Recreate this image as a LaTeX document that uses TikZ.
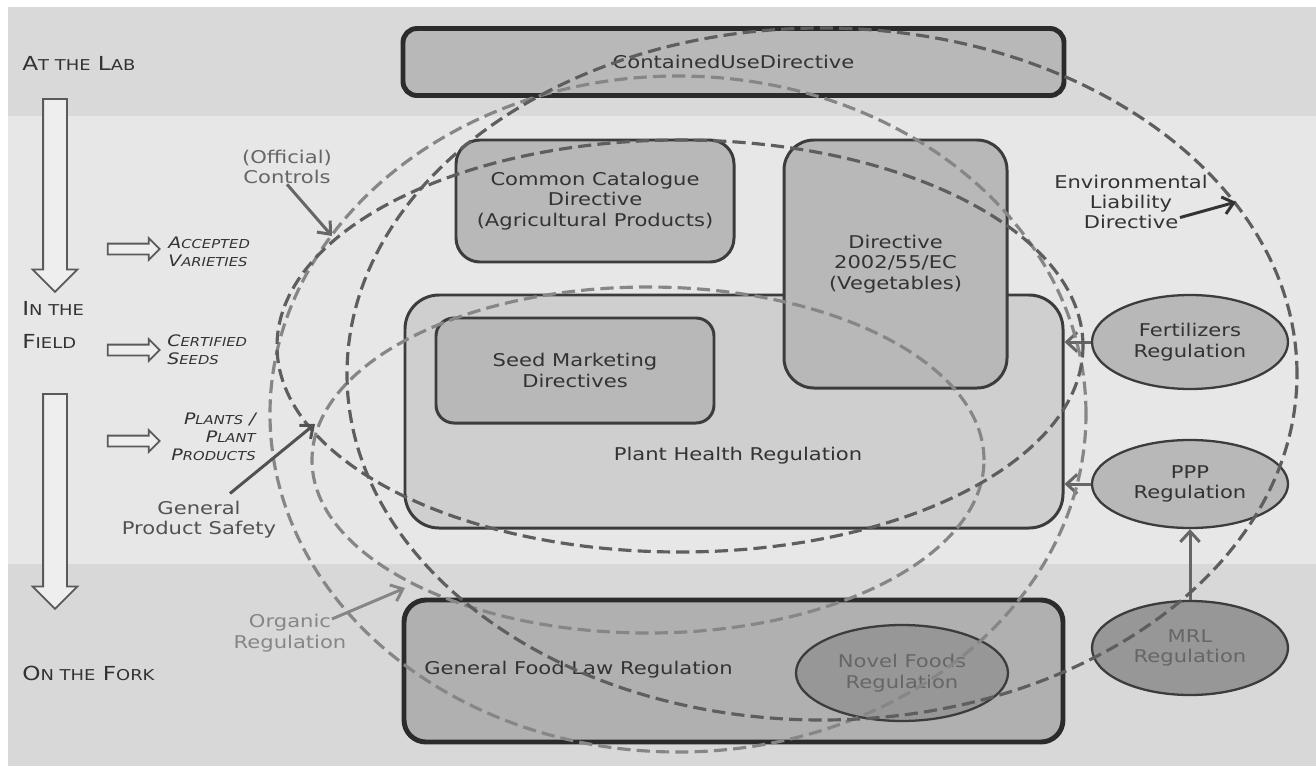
\documentclass[tikz,border=0pt]{standalone}
\usepackage{fontspec}
\setmainfont{DejaVu Sans}[FakeStretch=1.2]
\usetikzlibrary{shapes,arrows.meta,calc}

\newdimen\pu \pu=0.2mm
\newcommand\boxtext{\fontsize{10}{11.6}\selectfont}
\newcommand\smc[1]{{\fontsize{8.5}{10}\selectfont #1}}
\newcommand\smi[1]{{\fontsize{7}{8}\selectfont #1}}

\definecolor{bandLab}{HTML}{D9D9D9}
\definecolor{bandField}{HTML}{E7E7E7}
\definecolor{bandFork}{HTML}{D8D8D8}
\definecolor{boxGray}{HTML}{B8B8B8}
\definecolor{paleGray}{HTML}{CFCFCF}
\definecolor{foodGray}{HTML}{B0B0B0}
\definecolor{darkGray}{HTML}{979797}
\definecolor{edge}{HTML}{3C3C3C}
\definecolor{heavyEdge}{HTML}{2B2B2B}
\definecolor{ink}{HTML}{333333}
\definecolor{softInk}{HTML}{666666}
\definecolor{ringDark}{HTML}{5E5E5E}
\definecolor{ringLight}{HTML}{868686}
\definecolor{flowEdge}{HTML}{5A5A5A}
\definecolor{flowFill}{HTML}{EEEEEE}

\tikzstyle{box} = [rectangle, draw=edge, line width=1.7pt, fill=boxGray, text=ink, align=center, inner sep=0pt]
\tikzstyle{heavy} = [draw=heavyEdge, line width=2.8pt]
\tikzstyle{reg} = [ellipse, draw=edge, line width=1.3pt, fill=boxGray, text=ink, align=center, inner sep=0pt, minimum width=196\pu, minimum height=94\pu]
\tikzstyle{stage} = [anchor=west, inner sep=0pt, text=ink, font=\fontsize{11}{13}\selectfont]
\tikzstyle{product} = [inner sep=0pt, text=ink, font=\fontsize{9}{10.3}\selectfont\itshape]
\tikzstyle{flowarrow} = [single arrow, draw=flowEdge, fill=flowFill, line width=1pt, inner sep=11\pu, single arrow head extend=10.5\pu, shape border rotate=270]
\tikzstyle{sidearrow} = [single arrow, draw=flowEdge, fill=flowFill, line width=1pt, inner sep=4.5\pu, single arrow head extend=5.5\pu, minimum height=52\pu]
\tikzstyle{note} = [align=center, inner sep=0pt]
\tikzstyle{ring} = [dash pattern=on 7.5pt off 3.5pt, line width=1.8pt]
\tikzstyle{link} = [draw=softInk, line width=1.7pt, -{Straight Barb[length=6pt,width=11pt]}]
\tikzstyle{callout} = [line width=1.7pt, -{Straight Barb[length=6pt,width=10pt]}]

\begin{document}
\begin{tikzpicture}[x=0.2mm, y=-0.2mm, font=\boxtext]
\useasboundingbox (0,0) rectangle (1316,767);

% stages
\fill[bandLab] (8,7) rectangle (1316,116);
\fill[bandField] (8,116) rectangle (1316,564);
\fill[bandFork] (8,564) rectangle (1316,766);

\node (lab) [stage] at (22,63) {A\smc{T THE} L\smc{AB}};
\node (field) [stage, align=left, font=\fontsize{11}{18.8}\selectfont] at (22,324.5) {I\smc{N THE}\\F\smc{IELD}};
\node (fork) [stage] at (22,673) {O\smc{N THE} F\smc{ORK}};

\node (down1) [flowarrow, minimum height=193\pu] at (55,189.5) {};
\node (down2) [flowarrow, minimum height=215\pu] at (55,495.5) {};
\node (toVarieties) [sidearrow] at (131,249) {};
\node (toSeeds) [sidearrow] at (131,350) {};
\node (toPlants) [sidearrow] at (131,441) {};

\node (varieties) [product, anchor=west, align=left] at (168,252) {A\smi{CCEPTED}\\V\smi{ARIETIES}};
\node (seeds) [product, anchor=west, align=left] at (167,349.5) {C\smi{ERTIFIED}\\S\smi{EEDS}};
\node (plants) [product, anchor=east, align=right] at (256,437) {P\smi{LANTS} /\\P\smi{LANT}\\P\smi{RODUCTS}};

% regulation boxes
\node (contained) [box, heavy, minimum width=661\pu, minimum height=67\pu, rounded corners=14\pu] at (733.5,62) {ContainedUseDirective};
\node (catalogue) [box, minimum width=278\pu, minimum height=122\pu, rounded corners=24\pu] at (595,201) {Common Catalogue\\Directive\\(Agricultural Products)};
\node (plant) [box, fill=paleGray, minimum width=658\pu, minimum height=233\pu, rounded corners=34\pu] at (734,411.5) {};
\node (vegetables) [box, minimum width=223\pu, minimum height=248\pu, rounded corners=30\pu] at (895.5,264) {Directive\\2002/55/EC\\(Vegetables)};
\node (seed) [box, minimum width=278\pu, minimum height=105\pu, rounded corners=18\pu] at (575,370.5) {Seed Marketing\\Directives};
\node (plantLbl) [note, text=ink] at (738,456) {Plant Health Regulation};
\node (food) [box, heavy, fill=foodGray, minimum width=659\pu, minimum height=142\pu, rounded corners=22\pu] at (733.5,671) {};
\node (foodLbl) [note, anchor=west, text=ink] at (424,670) {General Food Law Regulation};
\node (novel) [reg, fill=darkGray, text=softInk, minimum width=212\pu, minimum height=96\pu] at (902,673) {Novel Foods\\Regulation};

\node (fert) [reg] at (1190,342) {Fertilizers\\Regulation};
\node (ppp) [reg, minimum height=88\pu] at (1190,484) {PPP\\Regulation};
\node (mrl) [reg, fill=darkGray, text=softInk] at (1190,648) {MRL\\Regulation};

\draw[link] (fert.west) -- (fert.west -| plant.east);
\draw[link] (ppp.west) -- (ppp.west -| plant.east);
\draw[link] (mrl) -- (ppp);

% scopes of horizontal rules
\draw[ring, ringLight] (648,460) ellipse [x radius=336\pu, y radius=173\pu];
\draw[ring, ringLight] (678,414) ellipse [x radius=408\pu, y radius=338\pu];
\draw[ring, ringDark] (680,346) ellipse [x radius=403\pu, y radius=206\pu];
\draw[ring, ringDark] (822,374) ellipse [x radius=475\pu, y radius=346\pu];

\node (controlsLbl) [note, text=softInk] at (287,167) {(Official)\\Controls};
\node (safetyLbl) [note, text=ink!85] at (199,519.5) {General\\Product Safety};
\node (organicLbl) [note, text=ringLight] at (290,633) {Organic\\Regulation};
\node (liabilityLbl) [note, text=ink] at (1131,202) {Environmental\\Liability\\Directive};

\coordinate (controlsTip) at (332,236);
\coordinate (safetyTip) at (315,424);
\coordinate (organicTip) at (405,588);
\coordinate (liabilityTip) at (1236,202);

\draw[callout, softInk] (controlsLbl.south) -- (controlsTip);
\draw[callout, ink!85] ($(safetyLbl.north)+(31,-7)$) -- (safetyTip);
\draw[callout, ringLight] ($(organicLbl.north)+(42,5)$) -- (organicTip);
\draw[callout, ink] ($(liabilityLbl.south)+(49,-12)$) -- (liabilityTip);
\end{tikzpicture}
\end{document}
